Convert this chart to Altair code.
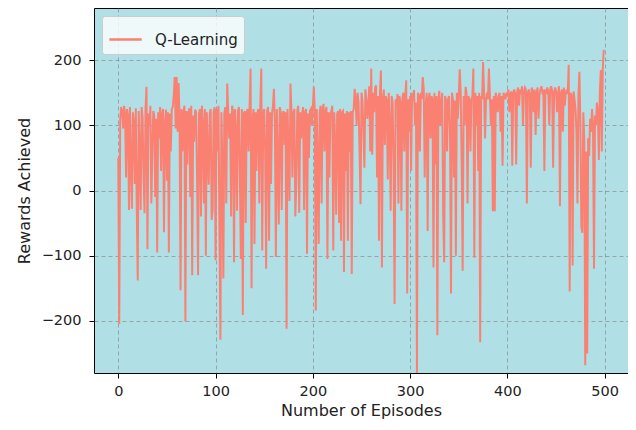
import altair as alt
import pandas as pd

series_name = "Q-Learning"

rewards_000_099 = [
    50, -205, 110, 128, 122, 95, 130, 118, 20, 125,
    115, -30, 128, 40, -28, 120, 105, 10, 126, -25,
    -138, 122, 60, -30, 128, 112, 20, -35, 124, 159,
    -90, 118, 100, 130, -20, 60, 122, 115, -10, 110,
    -95, 120, 80, 128, 30, 118, 125, -64, 100, 124,
    15, 120, -95, 118, 60, 125, 128, 145, 174, 95,
    174, 90, 165, 110, -153, 125, 60, 120, 130, -201,
    122, 40, 118, 126, -10, 130, -130, 115, 75, 124,
    120, 20, -130, 118, 125, -40, 130, 100, -20, 125,
    -100, 120, 50, 9, 118, 125, -45, -31, 120, 128,
]
rewards_100_199 = [
    -107, 125, 60, 130, -60, -229, 120, 40, -135, 118,
    128, -20, 164, 120, 80, 118, -40, 130, 120, -110,
    125, 90, -31, 122, 128, 20, -105, 125, -191, 118,
    122, -50, 120, 125, 60, 130, 187, -150, 110, 125,
    -82, 120, 30, 118, 125, -20, 130, 187, -92, 120,
    125, 60, -120, 122, 128, -77, 120, 10, 118, 130,
    156, 100, -102, 125, 40, -52, 128, 120, -30, 118,
    122, 70, 120, -212, 125, 60, -16, 164, 122, 20,
    120, 125, -40, 9, 122, 130, -34, 120, 80, 118,
    128, -30, 120, 125, -97, 118, 50, 122, 125, 100,
]
rewards_200_299 = [
    128, 159, 122, -184, 125, 40, -82, 120, 130, -20,
    125, 133, 60, 122, 128, -105, 120, 20, 118, 122,
    130, -92, 120, 70, -37, 118, 122, -50, 125, -77,
    120, 122, -125, 118, 30, 122, -77, 120, 60, 122,
    -128, 120, 125, 156, 140, 100, 150, 135, 60, -21,
    150, 138, 90, 35, 155, 140, 110, 130, 160, 60,
    187, 55, 150, 120, 158, 161, 20, 145, -77, 150,
    184, -118, 140, 155, 70, 145, 138, 17, 150, 100,
    -31, 145, 135, 40, -174, 140, 130, 148, -20, 145,
    135, -31, 140, 150, 60, 145, 169, -158, 140, 90,
]
rewards_300_399 = [
    145, 30, 150, 138, 154, 100, 135, -280, 150, 145,
    60, 150, 140, 174, 155, 20, 130, 150, -62, 140,
    150, 80, 145, 140, -118, 150, 40, 145, -222, 140,
    153, 100, 135, 150, -40, -110, 145, 138, 60, 140,
    145, 90, -158, 150, 140, 20, 138, -100, 150, 110,
    145, 186, 150, 40, -123, 145, 100, 159, 150, -20,
    145, 138, 60, 140, 145, 187, -103, 150, 100, 145,
    30, 150, -233, 145, 140, 197, 150, 80, 138, 150,
    140, 187, 145, 100, 140, -32, 145, -32, 150, 140,
    120, 145, 150, 90, 145, 38, 150, 145, 140, 150,
]
rewards_400_499 = [
    145, 155, 120, 148, 152, 38, 150, 155, 148, 40,
    152, 158, 130, 155, 148, 160, 100, 150, 158, 155,
    -20, 150, 155, 148, 35, 158, 152, 120, 155, 85,
    150, 158, 110, 148, 155, 160, 150, 152, 30, 155,
    148, 158, 152, 100, 155, 160, 152, 35, 150, 158,
    152, 120, 148, 160, -24, 150, 155, 90, 158, 130,
    150, 155, 148, 193, -155, 150, 145, -115, 152, 140,
    125, 90, -20, 145, 182, 100, -55, -65, 120, 80,
    -268, 60, -250, 80, 53, 110, 90, 125, 100, -120,
    115, 100, 135, 120, 47, 150, 185, 60, 185, 216,
]

rewards = (rewards_000_099 + rewards_100_199 + rewards_200_299
           + rewards_300_399 + rewards_400_499)
episodes = list(range(len(rewards)))

x_ticks = [0, 100, 200, 300, 400, 500]
y_ticks = [-200, -100, 0, 100, 200]

df = pd.DataFrame({"episode": episodes, "reward": rewards,
                   "series": [series_name] * len(rewards)})

FONT = "DejaVu Sans"

chart = alt.Chart(df).mark_line(strokeWidth=2, clip=True).encode(
    x=alt.X("episode:Q", title="Number of Episodes",
            scale=alt.Scale(domain=[-24.95, 523.95], nice=False, zero=False),
            axis=alt.Axis(values=x_ticks, format="d")),
    y=alt.Y("reward:Q", title="Rewards Achieved",
            scale=alt.Scale(domain=[-280, 280], nice=False, zero=False),
            axis=alt.Axis(values=y_ticks, format="d")),
    color=alt.Color("series:N", scale=alt.Scale(range=["#FA8072"]),
                    legend=alt.Legend(title=None, orient="top-left", offset=8,
                                      symbolType="stroke", symbolSize=1050,
                                      symbolStrokeWidth=2.5, labelFontSize=15,
                                      labelFont=FONT, labelColor="#222222",
                                      labelOffset=12, padding=6,
                                      fillColor="rgba(255,255,255,0.8)",
                                      strokeColor="#cccccc", cornerRadius=3)),
).properties(
    width=534, height=365,
    autosize=alt.AutoSizeParams(type="none"),
    padding={"left": 86, "top": 0, "right": 0, "bottom": 50},
).configure_view(
    fill="#B0E0E6", stroke="#000000", strokeWidth=1,
).configure_axis(
    domain=False, grid=True, gridColor="#8a8a8a", gridOpacity=0.7,
    gridDash=[4, 3], gridWidth=1,
    ticks=True, tickColor="#000000", tickSize=5, tickWidth=1,
    labelFont=FONT, labelFontSize=14.5, labelColor="#222222",
    titleFont=FONT, titleFontSize=16, titleFontWeight="normal",
    titleColor="#222222",
).configure_axisX(titlePadding=5, labelPadding=6).configure_axisY(
    titlePadding=9, labelPadding=8)

chart.save("out.html", embed_options={"renderer": "svg", "actions": False})
